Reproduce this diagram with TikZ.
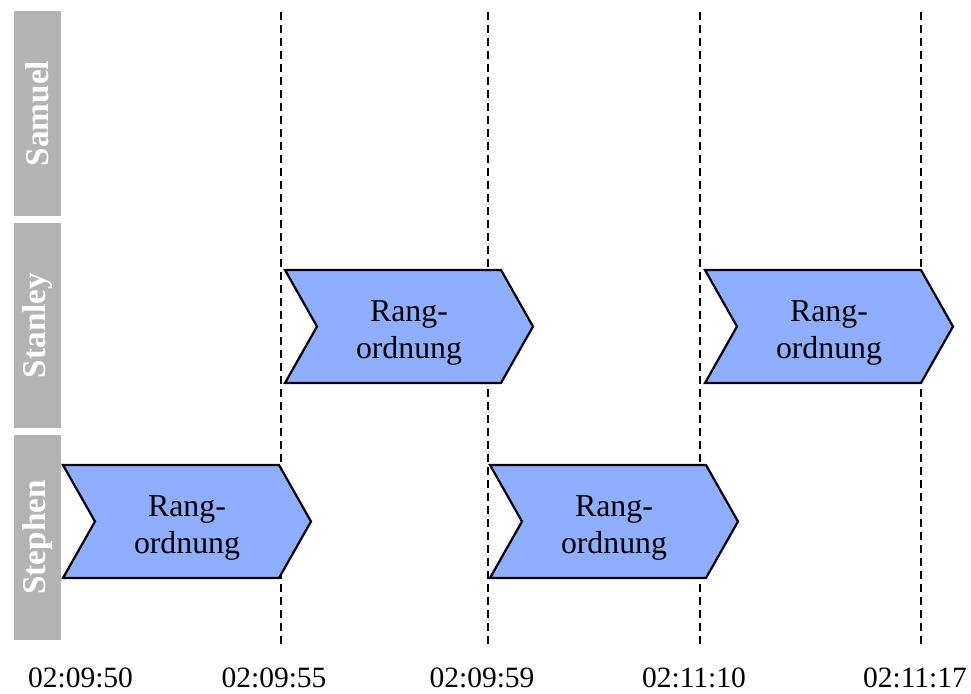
\documentclass[tikz,border=0pt]{standalone}
\usepackage{fontspec}
\setmainfont{Liberation Serif}
\definecolor{lanegray}{HTML}{B3B3B3}
\definecolor{stepblue}{HTML}{8FAEFF}
\tikzset{
  lanebox/.style={fill=lanegray, draw=none},
  lanetext/.style={text=white, font=\rmfamily\fontsize{16.6}{19}\selectfont\bfseries, rotate=90},
  chev/.style={fill=stepblue, draw=black, line width=1.1pt, line join=miter},
  chevtext/.style={align=center, font=\rmfamily\fontsize{15.9}{18.5}\selectfont},
  timeline/.style={draw=black, line width=1pt, dash pattern=on 4pt off 2.5pt},
  timelabel/.style={font=\rmfamily\fontsize{14.75}{17}\selectfont, anchor=base},
}
% chevron-shaped activity: #1 name, #2 left x, #3 top y, #4 label
\newcommand\chevronstep[4]{%
  \draw[chev] (#2,#3) -- ++(216,0) -- ++(32,56.5) -- ++(-32,56.5)
    -- ++(-216,0) -- ++(32,-56.5) -- cycle;
  \node[chevtext] (#1) at (#2+124,#3+63) {#4};
}
\begin{document}
\begin{tikzpicture}[x=0.5pt,y=-0.5pt]
  \useasboundingbox (0,0) rectangle (971,694);

  % swimlane headers
  \fill[lanebox] (14,11) rectangle (61,216);
  \fill[lanebox] (14,223) rectangle (61,428);
  \fill[lanebox] (14,435) rectangle (61,640);
  \node[lanetext] (samuel) at (37.5,113.5) {Samuel};
  \node[lanetext] (stanley) at (37.5,325.5) {Stanley};
  \node[lanetext] (stephen) at (37.5,537.5) {Stephen};

  % time markers
  \foreach \x in {281,488,700,921}
    \draw[timeline] (\x,12) -- (\x,648);

  % activities
  \chevronstep{a1}{63}{465}{Rang-\\ordnung}
  \chevronstep{a2}{285}{270}{Rang-\\ordnung}
  \chevronstep{a3}{490}{465}{Rang-\\ordnung}
  \chevronstep{a4}{705}{270}{Rang-\\ordnung}

  % time axis labels
  \node[timelabel] (t1) at (80.5,688) {02:09:50};
  \node[timelabel] (t2) at (274,688) {02:09:55};
  \node[timelabel] (t3) at (482,688) {02:09:59};
  \node[timelabel] (t4) at (694,688) {02:11:10};
  \node[timelabel] (t5) at (915,688) {02:11:17};
\end{tikzpicture}
\end{document}
